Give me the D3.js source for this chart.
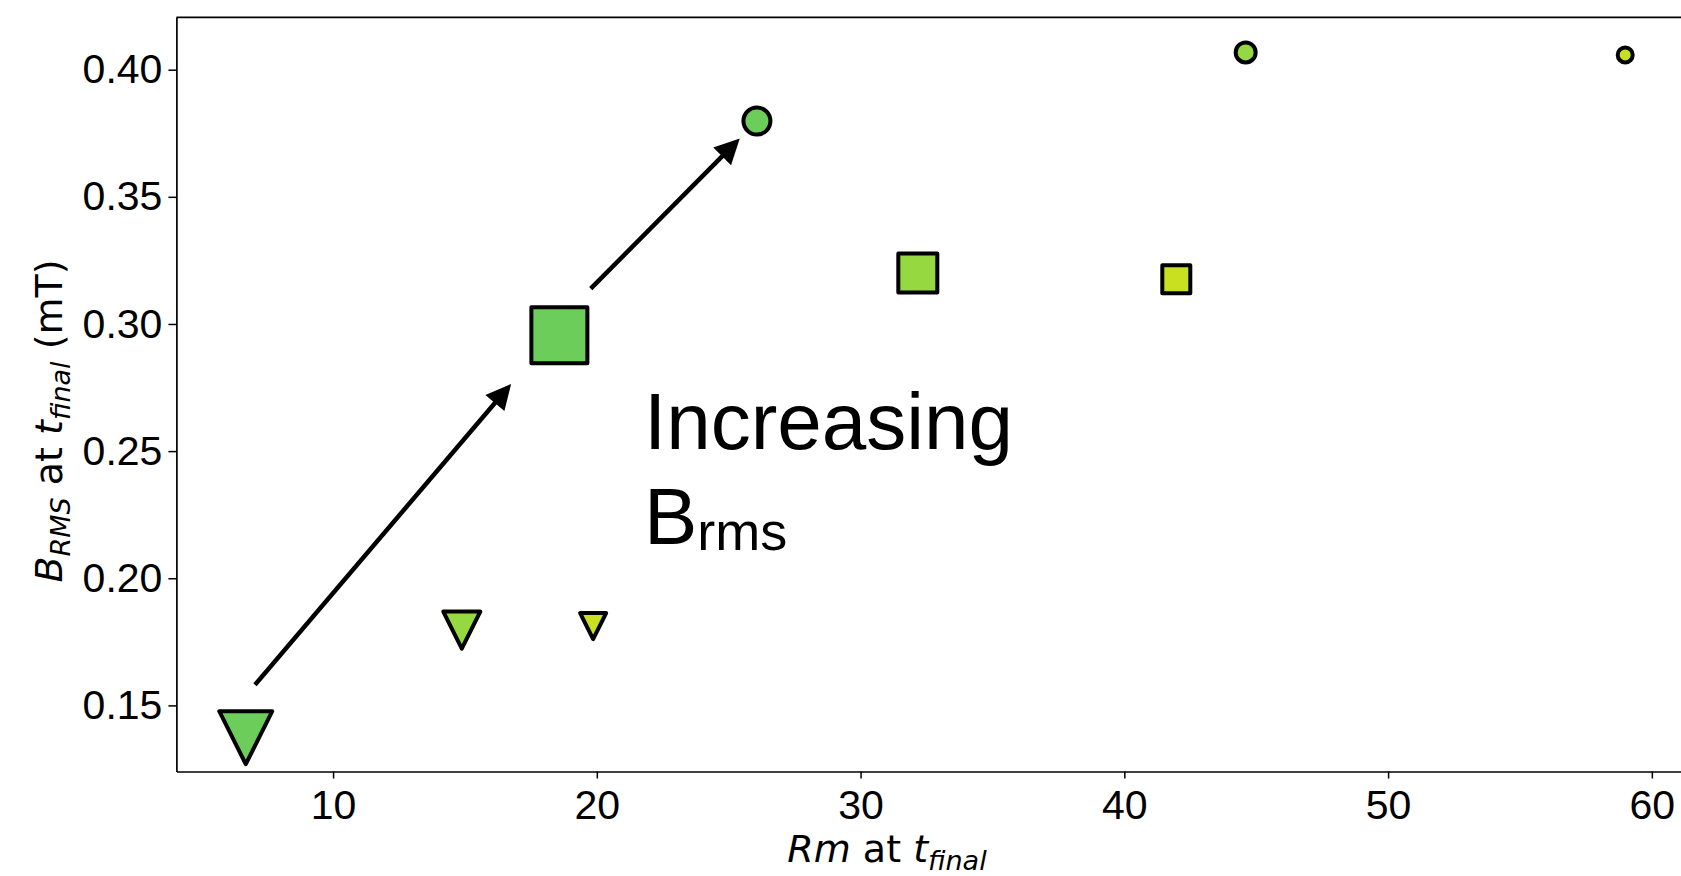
<!DOCTYPE html>
<html>
<head>
<meta charset="utf-8">
<script src="https://cdn.jsdelivr.net/npm/d3@7"></script>
<style>
  html, body { margin: 0; padding: 0; background: #ffffff; }
  svg { display: block; }
</style>
</head>
<body>
<svg id="chart" width="1681" height="876"></svg>
<script>
// Runs: magnetic Reynolds number and RMS field strength at the final time
const rmFinal   = [6.69, 14.88, 19.86, 18.58, 32.17, 41.97, 26.07, 44.60, 58.99];
const bRmsFinal = [0.1373, 0.1796, 0.1812, 0.2956, 0.3200, 0.3176, 0.3798, 0.4068, 0.4058];
const runShape  = ["triangle", "triangle", "triangle", "square", "square", "square", "circle", "circle", "circle"];
const runLevel  = [0, 1, 2, 0, 1, 2, 0, 1, 2];

// Axis ticks
const xTicks = [10, 20, 30, 40, 50, 60];
const yTicks = [0.15, 0.20, 0.25, 0.30, 0.35, 0.40];

// Trend arrows (data coordinates)
const arrowFrom = [[7.04, 0.1581], [19.77, 0.3139]];
const arrowTo   = [[16.75, 0.2764], [25.42, 0.3729]];

// ---- styling ----
const levelColor = ["#6ccd5a", "#95d840", "#c8e020"];
const markerPx = { triangle: [53, 37, 26], square: [56, 39, 28], circle: [27, 20, 15] };
const labelFont = "'DejaVu Sans', sans-serif";
const textFont = "'Liberation Sans', Arial, Helvetica, sans-serif";

const svg = d3.select("#chart");
const plot = { left: 176.4, right: 1683.5, top: 17.3, bottom: 771.5 };

const x = d3.scaleLinear().domain([4.06, 61.2]).range([plot.left, plot.right]);
const y = d3.scaleLinear().domain([0.124, 0.4206]).range([plot.bottom, plot.top]);

// Axes
const xAxis = svg.append("g")
  .attr("transform", `translate(0,${plot.bottom})`)
  .call(d3.axisBottom(x).tickValues(xTicks).tickFormat(d3.format("d"))
    .tickSize(7).tickSizeOuter(0).tickPadding(11));
const yAxis = svg.append("g")
  .attr("transform", `translate(${plot.left},0)`)
  .call(d3.axisLeft(y).tickValues(yTicks).tickFormat(d3.format(".2f"))
    .tickSize(8).tickSizeOuter(0).tickPadding(6));

[xAxis, yAxis].forEach(g => {
  g.select(".domain").attr("stroke", "#000").attr("stroke-width", 1.7);
  g.selectAll(".tick line").attr("stroke", "#000").attr("stroke-width", 1.5);
  g.selectAll(".tick text")
    .attr("fill", "#000")
    .style("font-family", textFont)
    .style("font-size", "41px");
});

// Top spine
svg.append("line")
  .attr("x1", plot.left).attr("x2", plot.right)
  .attr("y1", plot.top).attr("y2", plot.top)
  .attr("stroke", "#000").attr("stroke-width", 1.7);

// Axis labels
const xLabel = svg.append("text")
  .attr("x", 887).attr("y", 862)
  .attr("text-anchor", "middle")
  .style("font-family", labelFont).style("font-size", "38px");
xLabel.append("tspan").attr("font-style", "italic").text("Rm");
xLabel.append("tspan").text(" at ");
xLabel.append("tspan").attr("font-style", "italic").text("t");
xLabel.append("tspan").attr("font-style", "italic").attr("font-size", "27px").attr("dy", 8).text("final");

const yLabel = svg.append("text")
  .attr("transform", "translate(62,421) rotate(-90)")
  .attr("text-anchor", "middle")
  .style("font-family", labelFont).style("font-size", "38px");
yLabel.append("tspan").attr("font-style", "italic").text("B");
yLabel.append("tspan").attr("font-style", "italic").attr("font-size", "27px").attr("dy", 8).text("RMS");
yLabel.append("tspan").attr("dy", -8).text(" at ");
yLabel.append("tspan").attr("font-style", "italic").text("t");
yLabel.append("tspan").attr("font-style", "italic").attr("font-size", "27px").attr("dy", 8).text("final");
yLabel.append("tspan").attr("dy", -8).text(" (mT)");

// Trend arrows
const headLen = 25, headHalf = 12.5;
arrowFrom.forEach((p, i) => {
  const x0 = x(p[0]), y0 = y(p[1]);
  const x1 = x(arrowTo[i][0]), y1 = y(arrowTo[i][1]);
  const len = Math.hypot(x1 - x0, y1 - y0);
  const ux = (x1 - x0) / len, uy = (y1 - y0) / len;
  const bx = x1 - ux * headLen, by = y1 - uy * headLen;
  svg.append("line")
    .attr("x1", x0).attr("y1", y0)
    .attr("x2", bx + ux * 2).attr("y2", by + uy * 2)
    .attr("stroke", "#000").attr("stroke-width", 4.5);
  svg.append("path")
    .attr("d", `M${x1},${y1}L${bx - uy * headHalf},${by + ux * headHalf}L${bx + uy * headHalf},${by - ux * headHalf}Z`)
    .attr("fill", "#000");
});

// Annotation text
const note = svg.append("text")
  .style("font-family", textFont).style("font-size", "80px").attr("fill", "#000");
note.append("tspan").attr("x", 644).attr("y", 449).text("Increasing");
const line2 = svg.append("text")
  .attr("x", 644).attr("y", 544)
  .style("font-family", textFont).style("font-size", "80px").attr("fill", "#000");
line2.append("tspan").text("B");
line2.append("tspan").attr("font-size", "54px").attr("dy", 6).text("rms");

// Markers
function markerPath(shape, s) {
  const h = s / 2;
  if (shape === "triangle") return `M${-h},${-h}L${h},${-h}L0,${h}Z`;
  if (shape === "square") return `M${-h},${-h}H${h}V${h}H${-h}Z`;
  return `M${h},0A${h},${h} 0 1,1 ${-h},0A${h},${h} 0 1,1 ${h},0Z`;
}

svg.append("g").selectAll("path")
  .data(rmFinal.map((d, i) => i))
  .join("path")
  .attr("transform", i => `translate(${x(rmFinal[i])},${y(bRmsFinal[i])})`)
  .attr("d", i => markerPath(runShape[i], markerPx[runShape[i]][runLevel[i]]))
  .attr("fill", i => levelColor[runLevel[i]])
  .attr("stroke", "#000")
  .attr("stroke-width", 4)
  .attr("stroke-linejoin", "round");
</script>
</body>
</html>
